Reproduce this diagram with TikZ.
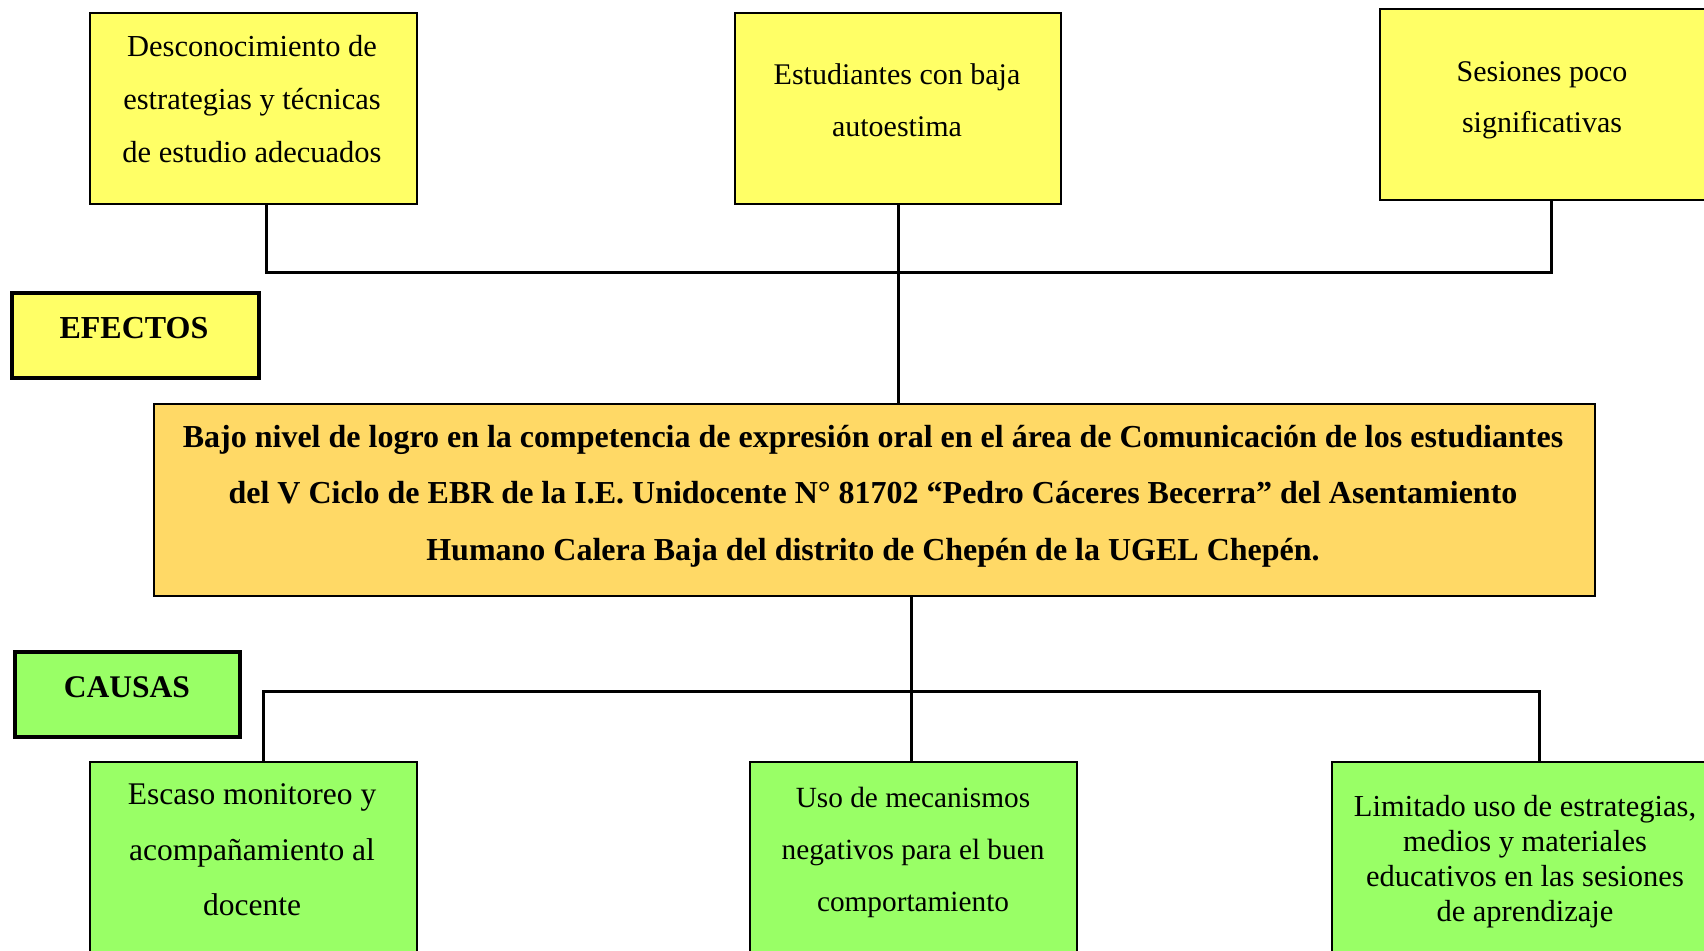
\documentclass[tikz,border=0pt]{standalone}
\usepackage{fontspec}
\setmainfont{Liberation Serif}
\definecolor{yel}{HTML}{FFFF66}
\definecolor{org}{HTML}{FFD966}
\definecolor{grn}{HTML}{99FF66}
\begin{document}
\begin{tikzpicture}[x=1pt,y=-1pt,
  box/.style={draw=black,line width=2.5pt,rectangle,inner sep=0pt},
  tag/.style={draw=black,line width=4pt,rectangle,inner sep=0pt},
  txt/.style={align=center,inner sep=0pt},
  conn/.style={line width=3pt,line cap=rect}]
\useasboundingbox (0,0) rectangle (1704,950);
\clip (0,0) rectangle (1704,950);
% boxes
\node[box,fill=yel,minimum width=327pt,minimum height=191pt] (D) at (253.5,108.5) {};
\node[box,fill=yel,minimum width=326pt,minimum height=191pt] (E) at (898,108.5) {};
\node[box,fill=yel,minimum width=327pt,minimum height=191pt] (S) at (1543.5,104.5) {};
\node[tag,fill=yel,minimum width=247pt,minimum height=85pt] (EF) at (135.5,335.5) {};
\node[box,fill=org,minimum width=1441pt,minimum height=192pt] (C) at (874.5,500) {};
\node[tag,fill=grn,minimum width=225pt,minimum height=85pt] (CA) at (127.5,694.5) {};
\node[box,fill=grn,minimum width=327pt,minimum height=192pt] (Es) at (253.5,858) {};
\node[box,fill=grn,minimum width=327pt,minimum height=192pt] (U) at (913.5,858) {};
\node[box,fill=grn,minimum width=414pt,minimum height=192pt] (L) at (1539,858) {};
% texts
\node[txt,font=\fontsize{30.5}{53}\selectfont] (tD) at (252,99) {Desconocimiento de\\estrategias y técnicas\\de estudio adecuados};
\node[txt,font=\fontsize{30}{52}\selectfont] (tE) at (897,100) {Estudiantes con baja\\autoestima};
\node[txt,font=\fontsize{30}{51}\selectfont] (tS) at (1542,100) {Sesiones poco\\significativas};
\node[txt,font=\fontsize{32}{36}\selectfont\bfseries] (tEF) at (134,328) {EFECTOS};
\node[txt,font=\fontsize{32}{56.5}\selectfont\bfseries] (tC) at (873,496) {Bajo nivel de logro en la competencia de expresión oral en el área de Comunicación de los estudiantes\\del V Ciclo de EBR de la I.E. Unidocente N° 81702 “Pedro Cáceres Becerra” del Asentamiento\\Humano Calera Baja del distrito de Chepén de la UGEL Chepén.};
\node[txt,font=\fontsize{31.5}{36}\selectfont\bfseries] (tCA) at (127,687) {CAUSAS};
\node[txt,font=\fontsize{31.5}{55.5}\selectfont] (tEs) at (252,850) {Escaso monitoreo y\\acompañamiento al\\docente};
\node[txt,font=\fontsize{29.3}{51.6}\selectfont] (tU) at (913,852.5) {Uso de mecanismos\\negativos para el buen\\comportamiento};
\node[txt,font=\fontsize{30.5}{35}\selectfont] (tL) at (1525,861.5) {Limitado uso de estrategias,\\medios y materiales\\educativos en las sesiones\\de aprendizaje};
% connectors
\coordinate (kD) at (266,272);
\coordinate (kS) at (1551,272);
\draw[conn] (kD |- D.south) -- (kD) -- (kS) -- (kS |- S.south);
\draw[conn] (E.south) -- (E.south |- C.north);
\coordinate (kU) at (911,691);
\coordinate (kE) at (263,691);
\coordinate (kL) at (1539,691);
\draw[conn] (kU |- C.south) -- (kU |- U.north);
\draw[conn] (kE |- Es.north) -- (kE) -- (kL) -- (L.north);
\end{tikzpicture}
\end{document}
